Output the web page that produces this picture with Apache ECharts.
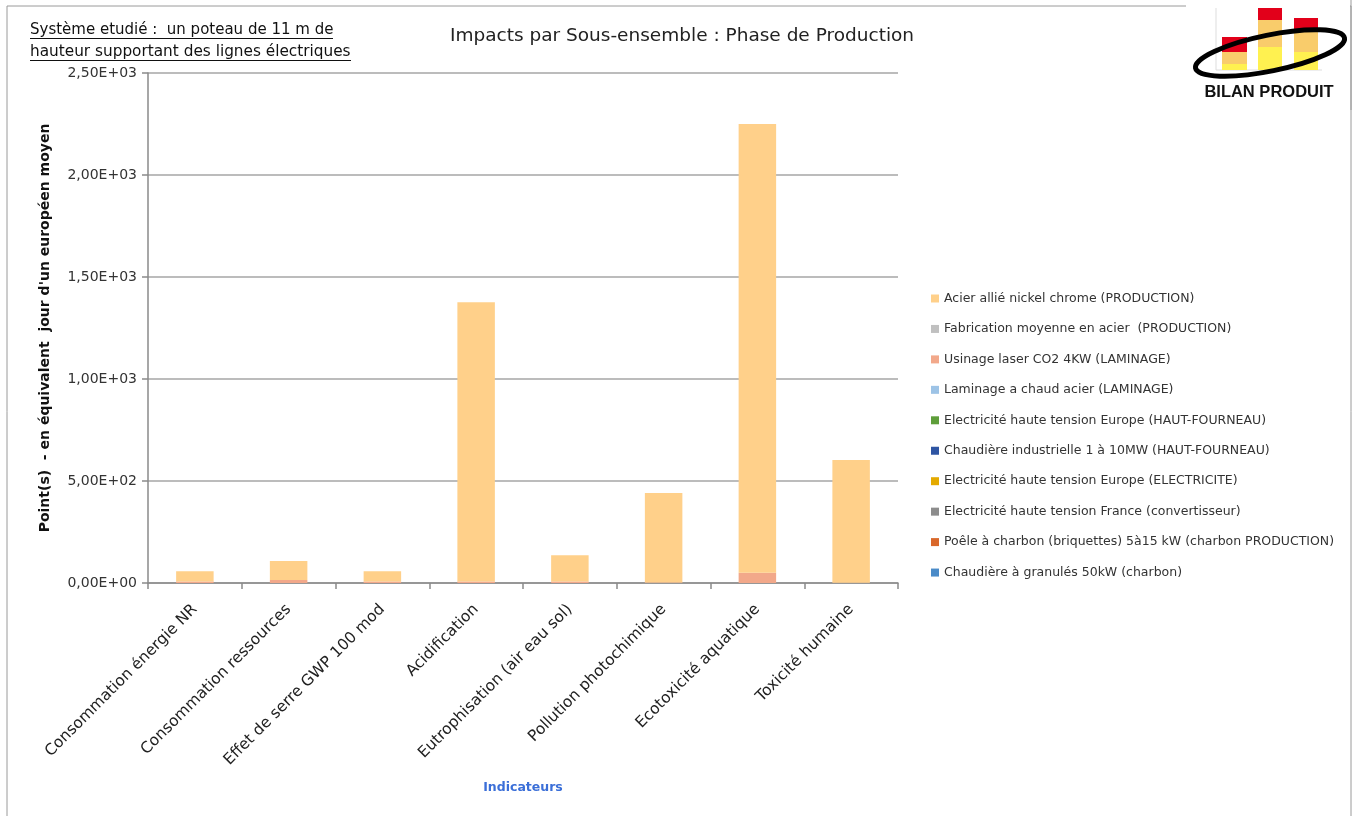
<!DOCTYPE html>
<html><head><meta charset="utf-8">
<script src="https://cdn.jsdelivr.net/npm/echarts@6/dist/echarts.min.js"></script>
<style>html,body{margin:0;padding:0;background:#fff}#c{width:1357px;height:816px}</style>
</head><body><div id="c"></div>
<script>
const categories = ["Consommation énergie NR","Consommation ressources","Effet de serre GWP 100 mod","Acidification","Eutrophisation (air eau sol)","Pollution photochimique","Ecotoxicité aquatique","Toxicité humaine"];
const seriesNames = ["Chaudière à granulés 50kW (charbon)","Poêle à charbon (briquettes) 5à15 kW (charbon PRODUCTION)","Electricité haute tension France (convertisseur)","Electricité haute tension Europe (ELECTRICITE)","Chaudière industrielle 1 à 10MW (HAUT-FOURNEAU)","Electricité haute tension Europe (HAUT-FOURNEAU)","Laminage a chaud acier (LAMINAGE)","Usinage laser CO2 4KW (LAMINAGE)","Fabrication moyenne en acier  (PRODUCTION)","Acier allié nickel chrome (PRODUCTION)"];
const chaudiereGranules = [0,0,0,0,0,0,0,0];
const poeleCharbon = [0,0,0,0,0,0,0,0];
const elecFrance = [0,0,0,0,0,0,0,0];
const elecEuropeElec = [0,0,0,0,0,0,0,0];
const chaudiereIndus = [0,0,0,0,0,0,0,0];
const elecEuropeHF = [0,0,0,0,0,0,0,0];
const laminage = [0,0,0,0,0,0,0,0];
const usinageLaser = [7,15,7,7,7,2,50,1];
const fabricationAcier = [0,0,0,0,0,0,0,0];
const acierNickel = [50,93,50,1369,129,439,2200,602];
const yTicks = [0,500,1000,1500,2000,2500];
const colors = ["#4A8BC8","#D9682B","#8C8C8C","#E4AA00","#2E55A3","#5E9E3A","#9DC3E6","#F2A88A","#C0C0C0","#FFD08A"];
const values = [chaudiereGranules,poeleCharbon,elecFrance,elecEuropeElec,chaudiereIndus,elecEuropeHF,laminage,usinageLaser,fabricationAcier,acierNickel];

function fmt(v){
  if(v===0) return "0,00E+00";
  const e = Math.floor(Math.log10(Math.abs(v)));
  const m = v/Math.pow(10,e);
  return m.toFixed(2).replace('.',',')+"E"+(e>=0?"+":"-")+String(Math.abs(e)).padStart(2,'0');
}
const FONT = "DejaVu Sans";
const chart = echarts.init(document.getElementById('c'), null, {renderer:'canvas'});
const logoZ = 60;
chart.setOption({
  animation:false,
  textStyle:{fontFamily:FONT},
  title:{text:"Impacts par Sous-ensemble : Phase de Production",left:677,textAlign:'center',top:22,textStyle:{fontSize:18.5,fontWeight:'normal',color:'#222',fontFamily:FONT}},
  legend:{orient:'vertical',left:926,top:287,itemWidth:8,itemHeight:8,itemGap:17.45,icon:'rect',
    data:seriesNames.slice().reverse(),textStyle:{fontSize:12.5,color:'#333',fontFamily:FONT}},
  grid:{left:148,right:459,top:73,bottom:233,containLabel:false},
  xAxis:{type:'category',data:categories,
    axisLine:{lineStyle:{color:'#8a8a8a',width:1.5}},
    axisTick:{show:true,length:6,interval:0,lineStyle:{color:'#8a8a8a',width:1.5}},
    axisLabel:{rotate:45,interval:0,fontSize:15.5,color:'#222',margin:24,fontFamily:FONT},
    name:"Indicateurs",nameLocation:'middle',nameGap:198,nameTextStyle:{color:'#3b6fd8',fontWeight:'bold',fontSize:12.5,fontFamily:FONT}},
  yAxis:{type:'value',min:0,max:2500,interval:500,
    axisLine:{show:true,lineStyle:{color:'#8a8a8a',width:1.5}},
    axisTick:{show:true,length:6,lineStyle:{color:'#8a8a8a',width:1.5}},
    splitLine:{lineStyle:{color:'#a6a6a6',width:1.5}},
    axisLabel:{formatter:fmt,fontSize:14,color:'#333',margin:11,fontFamily:FONT},
    name:"Point(s)  - en équivalent  jour d'un européen moyen",nameLocation:'middle',nameGap:96,
    nameTextStyle:{fontWeight:'bold',fontSize:14,color:'#111',fontFamily:FONT}},
  series:seriesNames.map((n,i)=>({name:n,type:'bar',stack:'total',data:values[i],barWidth:'40%',
    itemStyle:{color:colors[i]},emphasis:{disabled:true}})),
  graphic:[
    {type:'rect',shape:{x:7,y:6,width:1344,height:830},style:{fill:null,stroke:'#9a9a9a',lineWidth:1},z:-10},
    {type:'rect',shape:{x:1186,y:0,width:164,height:105},style:{fill:'#fff'},z:50},
    {type:'line',shape:{x1:1351,y1:0,x2:1351,y2:110},style:{stroke:'#9a9a9a',lineWidth:1},z:51},
    {type:'text',x:30,y:30,style:{text:"Système etudié :  un poteau de 11 m de",fontSize:15,fill:'#111',fontFamily:FONT,verticalAlign:'middle'},z:50},
    {type:'line',shape:{x1:30,y1:38.5,x2:333,y2:38.5},style:{stroke:'#111',lineWidth:1},z:50},
    {type:'text',x:30,y:52,style:{text:"hauteur supportant des lignes électriques",fontSize:15.3,fill:'#111',fontFamily:FONT,verticalAlign:'middle'},z:50},
    {type:'line',shape:{x1:30,y1:60.5,x2:351,y2:60.5},style:{stroke:'#111',lineWidth:1},z:50},
    // logo
    {type:'line',shape:{x1:1216,y1:8,x2:1216,y2:70},style:{stroke:'#ddd',lineWidth:1},z:logoZ},
    {type:'line',shape:{x1:1216,y1:70,x2:1322,y2:70},style:{stroke:'#ddd',lineWidth:1},z:logoZ},
    {type:'rect',shape:{x:1222,y:64,width:25,height:6},style:{fill:'#FFF150'},z:logoZ},
    {type:'rect',shape:{x:1222,y:52,width:25,height:12},style:{fill:'#F9CC6B'},z:logoZ},
    {type:'rect',shape:{x:1222,y:37,width:25,height:15},style:{fill:'#E2001A'},z:logoZ},
    {type:'rect',shape:{x:1258,y:47,width:24,height:23},style:{fill:'#FFF150'},z:logoZ},
    {type:'rect',shape:{x:1258,y:20,width:24,height:27},style:{fill:'#F9CC6B'},z:logoZ},
    {type:'rect',shape:{x:1258,y:8,width:24,height:12},style:{fill:'#E2001A'},z:logoZ},
    {type:'rect',shape:{x:1294,y:52,width:24,height:18},style:{fill:'#FFF150'},z:logoZ},
    {type:'rect',shape:{x:1294,y:30,width:24,height:22},style:{fill:'#F9CC6B'},z:logoZ},
    {type:'rect',shape:{x:1294,y:18,width:24,height:12},style:{fill:'#E2001A'},z:logoZ},
    {type:'ellipse',shape:{cx:1270,cy:53,rx:76,ry:18},rotation:0.2,originX:1270,originY:53,style:{fill:null,stroke:'#000',lineWidth:5},z:logoZ+1},
    {type:'text',x:1269,y:92,style:{text:"BILAN PRODUIT",fontSize:16.5,fontWeight:'bold',fill:'#111',fontFamily:'Liberation Sans',align:'center',verticalAlign:'middle'},z:logoZ}
  ]
});
</script></body></html>
